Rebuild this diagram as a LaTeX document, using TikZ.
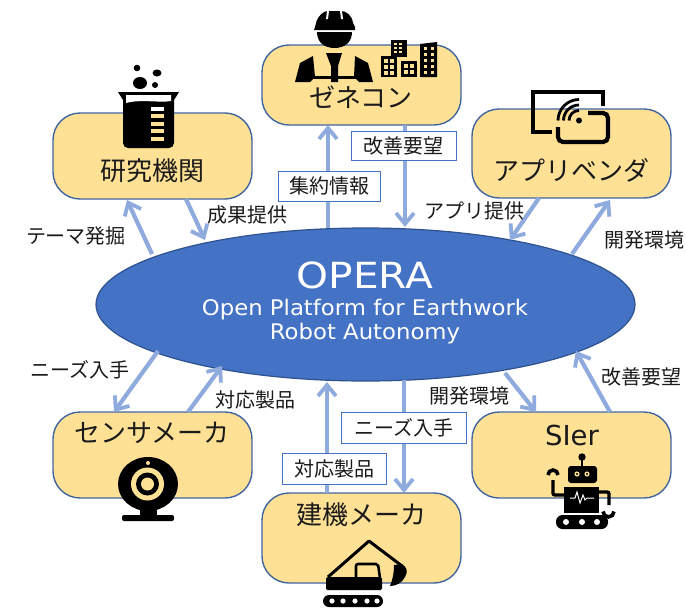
\documentclass[tikz,border=0pt]{standalone}
\usepackage{fontspec}
\setmainfont{DejaVu Sans}
\newfontfamily\jp{Noto Sans CJK JP}
\newfontfamily\widea[FakeStretch=1.13]{DejaVu Sans}
\newfontfamily\wideb[FakeStretch=1.06]{DejaVu Sans}
\usetikzlibrary{arrows.meta,shapes.geometric}
\definecolor{boxfill}{HTML}{FFE196}
\definecolor{boxline}{HTML}{41659F}
\definecolor{ellfill}{HTML}{4472C4}
\definecolor{ellline}{HTML}{2F528F}
\definecolor{arrowc}{HTML}{8FAADC}
\definecolor{labline}{HTML}{4472C4}
\definecolor{ink}{HTML}{1A1A1A}
\tikzset{
  actor/.style={draw=boxline,fill=boxfill,line width=1.4pt,rounded corners=27pt,minimum width=199pt,inner sep=0pt},
  title/.style={inner sep=0pt,text=ink,font=\jp\fontsize{26}{28}\selectfont},
  flow/.style={draw=arrowc,line width=4.2pt,-{Straight Barb[length=11pt,width=18pt,line width=3.8pt]}},
  taglabel/.style={draw=labline,fill=white,line width=0.8pt,inner sep=0pt,text=ink,font=\jp\fontsize{20}{22}\selectfont},
  freelabel/.style={inner sep=0pt,text=ink,font=\jp\fontsize{20}{22}\selectfont},
  ico/.style={fill=black,draw=none},
}
\begin{document}
\begin{tikzpicture}[x=1pt,y=-1pt]
\useasboundingbox (0,0) rectangle (686,608);
% actors
\node[actor,minimum height=80pt] (gc) at (361.5,85) {};
\node[actor,minimum height=86pt] (lab) at (152.5,156) {};
\node[actor,minimum height=89pt] (app) at (571.5,153.5) {};
\node[actor,minimum height=86pt] (sens) at (152.5,455) {};
\node[actor,minimum height=86pt] (si) at (571.5,455) {};
\node[actor,minimum height=90pt] (cm) at (361.5,538) {};
% hub
\node[draw=ellline,fill=ellfill,line width=1.2pt,ellipse,minimum width=539pt,minimum height=153pt,inner sep=0pt] (op) at (365.5,304.5) {};
\node[text=white,inner sep=0pt,font=\widea\fontsize{36}{38}\selectfont] (optitle) at (365,275) {OPERA};
\node[text=white,inner sep=0pt,font=\wideb\fontsize{21.5}{24}\selectfont] (opa) at (365,310) {Open Platform for Earthwork};
\node[text=white,inner sep=0pt,font=\wideb\fontsize{21.5}{24}\selectfont] (opb) at (365,334) {Robot Autonomy};
% connector ends
\coordinate (a1s) at (328,228); \coordinate (a1e) at (328,125);
\coordinate (a2s) at (405,125); \coordinate (a2e) at (405,227);
\coordinate (a3s) at (152,254); \coordinate (a3e) at (127,200);
\coordinate (a4s) at (186,199); \coordinate (a4e) at (205,240);
\coordinate (a5s) at (539,198); \coordinate (a5e) at (510,240);
\coordinate (a6s) at (572,254); \coordinate (a6e) at (610,200);
\coordinate (a7s) at (158,351); \coordinate (a7e) at (114,412);
\coordinate (a8s) at (188,412); \coordinate (a8e) at (222,366);
\coordinate (a9s) at (327,493); \coordinate (a9e) at (327,382);
\coordinate (a10s) at (404,380); \coordinate (a10e) at (404,493);
\coordinate (a11s) at (505,373); \coordinate (a11e) at (536,412);
\coordinate (a12s) at (610,412); \coordinate (a12e) at (576,351);
\foreach \n in {1,...,12}{\draw[flow] (a\n s) -- (a\n e);}
% labels
\node[taglabel,minimum width=102pt,minimum height=30pt] (t1) at (329,186) {集約情報};
\node[taglabel,minimum width=105pt,minimum height=29pt] (t2) at (403.5,145.5) {改善要望};
\node[taglabel,minimum width=104pt,minimum height=31pt] (t3) at (334,468.5) {対応製品};
\node[taglabel,minimum width=125pt,minimum height=31pt] (t4) at (403.5,427.5) {ニーズ入手};
\node[freelabel] (f1) at (76,236) {テーマ発掘};
\node[freelabel] (f2) at (247,215) {成果提供};
\node[freelabel] (f3) at (474,211) {アプリ提供};
\node[freelabel] (f4) at (644,240) {開発環境};
\node[freelabel] (f5) at (80,370) {ニーズ入手};
\node[freelabel] (f6) at (255,400) {対応製品};
\node[freelabel] (f7) at (469,396) {開発環境};
\node[freelabel] (f8) at (641,377) {改善要望};
% actor titles
\node[title] (gct) at (361,97) {ゼネコン};
\node[title] (labt) at (152,171) {研究機関};
\node[title] (appt) at (571,170) {アプリベンダ};
\node[title] (senst) at (152,433) {センサメーカ};
\node[title,font=\fontsize{27.5}{30}\selectfont] (sit) at (572,435) {SIer};
\node[title] (cmt) at (361,515) {建機メーカ};
% worker
\fill[ico] (315,27) -- (316,23) .. controls (318,15) and (324,11) .. (328,11) -- (341,11) .. controls (346,11) and (352,15) .. (353,23) -- (355,27) -- (355,30) -- (314,30) -- cycle;
\fill[white] (327,11) -- (329,11) -- (328,19) -- (326,19) -- cycle;
\fill[white] (340,11) -- (342,11) -- (343,19) -- (341,19) -- cycle;
\fill[ico] (317,32) -- (352,32) .. controls (352,42) and (345,48) .. (334.5,48) .. controls (324,48) and (317,42) .. (317,32) -- cycle;
\fill[ico] (295,82) -- (300,63) -- (313,56) -- (315,77) -- (310,82) -- cycle;
\fill[ico] (355,56) -- (368,63) -- (373,82) -- (359,82) -- (354,77) -- cycle;
\fill[ico] (326,53) -- (342,53) -- (338,66) -- (338,82) -- (331,82) -- (331,66) -- cycle;
\fill[ico] (310,76) rectangle (360,79);
% buildings
\fill[ico] (391,40) rectangle (407,57);
\fill[ico] (381,56) rectangle (397,77);
\fill[ico] (401,61) rectangle (417,77);
\fill[ico] (420,44) -- (437,42) -- (437,77) -- (420,77) -- cycle;
\foreach \x in {394,399}{\foreach \y in {43,47,51}{\fill[boxfill] (\x,\y) rectangle +(3,2.2);}}
\foreach \x in {384,390}{\foreach \y in {59,65,71}{\fill[boxfill] (\x,\y) rectangle +(3.5,3.5);}}
\foreach \x in {404,410}{\foreach \y in {64,70}{\fill[boxfill] (\x,\y) rectangle +(3.5,3.5);}}
\foreach \x in {424,431}{\foreach \y in {47,53,59,65,71}{\fill[boxfill] (\x,\y) rectangle +(3,3);}}
% beaker
\fill[ico] (137,68) circle (3.3);
\fill[ico] (157,73) ellipse (4.5 and 3.5);
\fill[ico] (140,83) ellipse (7 and 6);
\fill[ico] (155,85) circle (3);
\fill[ico] (118,92) -- (179,92) -- (174,100) -- (174,143) arc (0:90:5) -- (128,148) arc (90:180:5) -- (123,100) -- cycle;
\fill[white] (126,95) -- (171,95) -- (171,101) .. controls (160,103) and (140,99) .. (126,103) -- cycle;
\fill[white] (151,107) rectangle (164,111);
\foreach \y in {114,122,129,137}{\fill[boxfill] (151,\y) rectangle +(13,4);}
% tablet
\draw[line width=4.2pt,line cap=butt] (603,106) -- (603,92) -- (533,92) -- (533,132) -- (552,132);
\draw[line width=4.2pt,rounded corners=5pt] (558,127) -- (558,142) -- (608,142) -- (608,113) -- (588,113);
\fill[ico] (579,120.5) circle (3);
\foreach \r in {10,15.5,21}{\draw[line width=2.8pt] (579-\r,120.5) arc (180:270:\r);}
% webcam
\fill[ico] (148,484) ellipse (30 and 27);
\fill[ico] (140,505) rectangle (157,517);
\fill[ico,rounded corners=2pt] (122,515) rectangle (174,521);
\fill[boxfill] (147.5,484) circle (16.5);
\fill[ico] (147.5,484) circle (11.5);
\fill[boxfill] (147.5,484) circle (6.5);
\fill[boxfill] (148,463) circle (2);
% robot
\fill[ico] (582,457) circle (3.7);
\fill[ico] (580.7,457) rectangle (583.3,467);
\fill[ico,rounded corners=3pt] (568,466) rectangle (597,483);
\foreach \x in {577,587}{\fill[boxfill] (\x,474) circle (2.6); \fill[ico] (\x,474) circle (1.2);}
\fill[ico] (564,487) rectangle (599,513);
\draw[white,line width=1pt] (570,498) -- (575,498) -- (577,492) -- (580,503) -- (583,495) -- (585,500) -- (587,498) -- (594,498);
\draw[line width=3.4pt,rounded corners=2pt] (564,495) -- (553,495) -- (553,480);
\draw[line width=3.6pt] (548,475) arc (180:360:5);
\draw[line width=3.4pt,rounded corners=2pt] (599,492) -- (609,492) -- (609,505);
\draw[line width=3.6pt] (603,511.5) arc (180:0:5.5);
\fill[ico,rounded corners=6.5pt] (556,515) rectangle (608,529);
\foreach \x in {566,582,597}{\fill[white] (\x,522) circle (3);}
% excavator
\draw[line width=3pt,line join=round] (328,577) -- (369,541) -- (402,566);
\fill[ico] (394,565) -- (402,564) .. controls (407,567) and (408,572) .. (405,577) .. controls (402,583) and (396,586) .. (390,586) .. controls (393,579) and (394,572) .. (394,565) -- cycle;
\draw[line width=2.6pt,rounded corners=2pt] (356,578) -- (356,564) -- (378,564) -- (380,578);
\fill[ico,rounded corners=1.5pt] (326,577) rectangle (382,590);
\fill[ico,rounded corners=6pt] (323,595) rectangle (383,607);
\foreach \x in {332,343,355,367,377}{\fill[white] (\x,601) circle (2.6);}
\end{tikzpicture}
\end{document}
